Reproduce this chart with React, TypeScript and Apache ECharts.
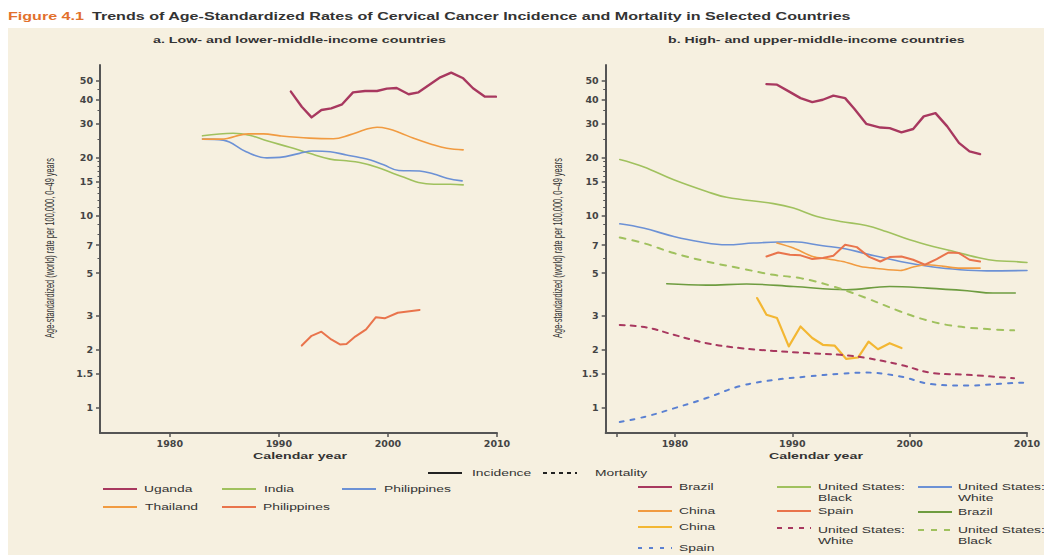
import React, { useEffect, useRef } from "react";
import * as echarts from "echarts";

// ---------- texts ----------
const TITLE_FIG = "Figure 4.1";
const TITLE = "Trends of Age-Standardized Rates of Cervical Cancer Incidence and Mortality in Selected Countries";
const PANEL_A = "a. Low- and lower-middle-income countries";
const PANEL_B = "b. High- and upper-middle-income countries";
const Y_NAME = "Age-standardized (world) rate per 100,000, 0–49 years";
const X_NAME = "Calendar year";

// ---------- ticks ----------
const Y_LABELS = [1, 1.5, 2, 3, 5, 7, 10, 15, 20, 30, 40, 50];
const Y_MINOR = [6, 8, 9, 11, 12, 13, 14, 16, 17, 18, 19, 25, 35, 45];
const X_LABELS = [1980, 1990, 2000, 2010];
const X_TICKS_A = [1980, 1990, 2000, 2010];
const X_TICKS_B = [1975, 1980, 1990, 2000, 2010];

// ---------- panel a: low- and lower-middle-income ----------
const UGANDA = [[1991.1, 44.0], [1992.1, 36.7], [1993.0, 32.3], [1993.9, 35.3], [1994.8, 36.0], [1995.8, 37.8], [1996.8, 43.6], [1997.9, 44.3], [1999.0, 44.3], [1999.9, 45.6], [2000.8, 45.9], [2001.9, 42.6], [2002.8, 43.6], [2003.9, 48.2], [2004.8, 52.2], [2005.8, 55.2], [2006.9, 51.6], [2007.8, 45.8], [2008.9, 41.4], [2009.9, 41.4]];
const THAILAND = [[1983.0, 24.9], [1984.7, 24.9], [1987.2, 26.5], [1988.6, 26.5], [1990.1, 25.9], [1992.8, 25.2], [1995.0, 25.0], [1996.5, 26.2], [1998.0, 28.0], [1999.0, 28.7], [2000.0, 28.2], [2001.1, 26.9], [2002.3, 25.2], [2003.9, 23.5], [2005.4, 22.3], [2006.9, 21.9]];
const INDIA = [[1983.0, 25.9], [1985.8, 26.7], [1987.3, 26.1], [1988.9, 24.4], [1991.0, 22.6], [1992.8, 21.0], [1994.7, 19.6], [1996.2, 19.2], [1997.4, 18.8], [1999.0, 17.8], [2000.5, 16.5], [2001.7, 15.6], [2002.8, 14.8], [2004.2, 14.5], [2005.7, 14.5], [2006.9, 14.4]];
const PHILIPPINES_BLUE = [[1983.0, 24.9], [1984.9, 24.6], [1987.0, 21.4], [1988.9, 19.9], [1990.1, 20.0], [1991.9, 21.0], [1993.1, 21.6], [1994.7, 21.4], [1996.2, 20.6], [1997.4, 20.0], [1998.4, 19.4], [1999.6, 18.3], [2001.0, 17.1], [2002.9, 17.0], [2004.2, 16.4], [2005.4, 15.6], [2006.8, 15.1]];
const PHILIPPINES_RED = [[1992.1, 2.10], [1993.0, 2.36], [1993.9, 2.48], [1994.8, 2.26], [1995.6, 2.13], [1996.2, 2.14], [1997.0, 2.34], [1998.0, 2.55], [1998.9, 2.95], [1999.7, 2.91], [2000.9, 3.11], [2002.9, 3.22]];

// ---------- panel b: high- and upper-middle-income ----------
const BRAZIL_CRIMSON = [[1987.8, 48.1], [1988.7, 47.8], [1989.7, 44.1], [1990.7, 40.7], [1991.7, 38.8], [1992.6, 39.9], [1993.5, 41.9], [1994.5, 40.7], [1995.3, 35.7], [1996.3, 29.9], [1997.5, 28.6], [1998.3, 28.4], [1999.3, 27.0], [2000.3, 28.1], [2001.2, 32.7], [2002.2, 34.0], [2003.2, 29.0], [2004.2, 23.8], [2005.1, 21.5], [2006.0, 20.8]];
const US_BLACK_INC = [[1975.3, 19.5], [1977.3, 17.9], [1979.9, 15.3], [1982.7, 13.3], [1984.4, 12.4], [1988.4, 11.5], [1990.1, 10.9], [1992.1, 9.86], [1994.1, 9.29], [1996.3, 8.85], [1998.0, 8.24], [2000.0, 7.46], [2002.0, 6.88], [2004.0, 6.43], [2006.0, 5.99], [2007.4, 5.80], [2008.9, 5.75], [2010.0, 5.68]];
const US_WHITE_INC = [[1975.3, 9.03], [1977.3, 8.58], [1979.9, 7.76], [1982.1, 7.28], [1984.4, 7.02], [1986.7, 7.17], [1990.1, 7.28], [1992.6, 6.94], [1994.5, 6.70], [1996.3, 6.30], [1999.2, 5.75], [2002.0, 5.38], [2004.3, 5.21], [2006.6, 5.14], [2010.0, 5.16]];
const CHINA_ORANGE = [[1988.7, 7.17], [1990.1, 6.75], [1991.8, 6.08], [1992.9, 5.94], [1994.3, 5.75], [1995.8, 5.42], [1997.2, 5.29], [1999.2, 5.16], [2000.3, 5.38], [2001.4, 5.53], [2002.9, 5.42], [2004.3, 5.31], [2006.0, 5.31]];
const SPAIN_INC = [[1987.8, 6.10], [1988.8, 6.40], [1989.8, 6.23], [1990.7, 6.19], [1991.7, 5.92], [1992.6, 5.99], [1993.5, 6.16], [1994.5, 7.02], [1995.5, 6.83], [1996.5, 6.10], [1997.5, 5.75], [1998.3, 6.06], [1999.3, 6.10], [2000.3, 5.87], [2001.3, 5.53], [2002.3, 5.92], [2003.3, 6.40], [2004.2, 6.36], [2005.1, 5.87], [2006.0, 5.75]];
const BRAZIL_GREEN = [[1979.3, 4.40], [1982.7, 4.33], [1986.1, 4.39], [1990.1, 4.26], [1994.6, 4.10], [1998.3, 4.26], [2001.5, 4.18], [2004.9, 4.05], [2007.1, 3.94], [2009.0, 3.94]];
const CHINA_YELLOW = [[1987.0, 3.71], [1987.8, 3.04], [1988.7, 2.92], [1989.7, 2.08], [1990.7, 2.64], [1991.7, 2.30], [1992.6, 2.12], [1993.6, 2.10], [1994.6, 1.79], [1995.6, 1.82], [1996.5, 2.20], [1997.3, 2.01], [1998.3, 2.16], [1999.3, 2.04]];
const US_WHITE_MORT = [[1975.3, 2.69], [1977.6, 2.61], [1979.9, 2.39], [1982.7, 2.16], [1985.5, 2.04], [1988.4, 1.97], [1991.3, 1.92], [1994.1, 1.88], [1996.3, 1.81], [1999.2, 1.67], [2002.0, 1.51], [2004.9, 1.48], [2008.9, 1.42]];
const US_BLACK_MORT = [[1975.3, 7.66], [1977.3, 7.17], [1979.9, 6.36], [1982.7, 5.75], [1985.5, 5.31], [1988.4, 4.90], [1990.7, 4.71], [1993.5, 4.26], [1996.3, 3.71], [1999.2, 3.16], [2001.5, 2.84], [2003.7, 2.66], [2006.6, 2.56], [2008.9, 2.52]];
const SPAIN_MORT = [[1975.3, 0.84], [1977.6, 0.90], [1979.9, 0.99], [1982.7, 1.12], [1985.5, 1.29], [1988.4, 1.39], [1991.3, 1.45], [1994.1, 1.50], [1996.3, 1.52], [1999.2, 1.45], [2002.0, 1.32], [2004.9, 1.30], [2007.7, 1.33], [2010.0, 1.35]];

// ---------- styles ----------
const COL = {
  crimson: "#a8385f",
  lgreen: "#a0c15e",
  blue: "#6c91d5",
  orange: "#f19b41",
  red: "#e9744c",
  yellow: "#f3b733",
  dgreen: "#6e9c40",
  dblue: "#5a80d2",
};

type S = { name: string; grid: number; data: number[][]; color: string; width: number; dash?: number[]; smooth?: number };
const SERIES: S[] = [
  { name: "Uganda", grid: 0, data: UGANDA, color: COL.crimson, width: 2.4 },
  { name: "India", grid: 0, data: INDIA, color: COL.lgreen, width: 1.6, smooth: 0.4 },
  { name: "Philippines", grid: 0, data: PHILIPPINES_BLUE, color: COL.blue, width: 1.6, smooth: 0.4 },
  { name: "Thailand", grid: 0, data: THAILAND, color: COL.orange, width: 1.6, smooth: 0.4 },
  { name: "Philippines", grid: 0, data: PHILIPPINES_RED, color: COL.red, width: 2 },
  { name: "Brazil", grid: 1, data: BRAZIL_CRIMSON, color: COL.crimson, width: 2.4 },
  { name: "United States: Black", grid: 1, data: US_BLACK_INC, color: COL.lgreen, width: 1.6, smooth: 0.4 },
  { name: "United States: White", grid: 1, data: US_WHITE_INC, color: COL.blue, width: 1.6, smooth: 0.4 },
  { name: "China", grid: 1, data: CHINA_ORANGE, color: COL.orange, width: 1.6, smooth: 0.3 },
  { name: "Spain", grid: 1, data: SPAIN_INC, color: COL.red, width: 2 },
  { name: "Brazil", grid: 1, data: BRAZIL_GREEN, color: COL.dgreen, width: 1.6, smooth: 0.4 },
  { name: "China", grid: 1, data: CHINA_YELLOW, color: COL.yellow, width: 2.2 },
  { name: "United States: White", grid: 1, data: US_WHITE_MORT, color: COL.crimson, width: 2, dash: [5, 6], smooth: 0.4 },
  { name: "United States: Black", grid: 1, data: US_BLACK_MORT, color: COL.lgreen, width: 2, dash: [6, 7], smooth: 0.4 },
  { name: "Spain", grid: 1, data: SPAIN_MORT, color: COL.dblue, width: 2, dash: [4, 7], smooth: 0.4 },
];

const FONT = "Liberation Sans";
const TICK_FONT = "DejaVu Sans";
const AXIS_COLOR = "#555";
const TEXT_COLOR = "#333";

function measure(text: string, size: number, weight: string, family = FONT): number {
  const ctx = document.createElement("canvas").getContext("2d")!;
  ctx.font = `${weight} ${size}px "${family}"`;
  return ctx.measureText(text).width || 1;
}

function txt(text: string, x: number, y: number, size: number, weight: string, fill: string, scaleX: number, extra: any = {}) {
  return {
    type: "text",
    x,
    y,
    scaleX,
    scaleY: extra.scaleY ?? 1,
    rotation: extra.rotation ?? 0,
    z: 100,
    style: {
      text,
      fontSize: size,
      fontFamily: FONT,
      fontWeight: weight,
      fill,
      align: extra.align ?? "left",
      verticalAlign: extra.verticalAlign ?? "middle",
      textAlign: extra.align ?? "left",
      textVerticalAlign: extra.verticalAlign ?? "middle",
      lineHeight: extra.lineHeight ?? size * 1.2,
    },
  };
}

function fitSpan(text: string, x0: number, x1: number, y: number, size: number, weight: string, fill: string, extra: any = {}) {
  const w = measure(text, size, weight);
  return txt(text, x0, y, size, weight, fill, (x1 - x0) / w, extra);
}

function legendLine(x: number, y: number, color: string, dash?: number[]) {
  return {
    type: "line",
    z: 100,
    shape: { x1: x, y1: y, x2: x + 34, y2: y },
    style: { stroke: color, lineWidth: 2, lineDash: dash || null },
  };
}

const LOG = (v: number) => Math.log10(v);
const Y_MIN = LOG(0.737);
const Y_MAX = LOG(60.5);

function fmtY(v: number) {
  const r = Math.pow(10, v);
  return String(Math.round(r * 10) / 10);
}

function xAxisCfg(gridIndex: number, min: number, ticks: number[]) {
  return {
    type: "value",
    gridIndex,
    min,
    max: 2010,
    axisLine: { show: true, onZero: false, lineStyle: { color: AXIS_COLOR, width: 2 } },
    axisTick: { show: true, customValues: ticks, length: 4, lineStyle: { color: AXIS_COLOR, width: 1.5 } },
    axisLabel: {
      customValues: X_LABELS,
      formatter: (v: number) => String(v),
      margin: 5,
      fontSize: 9.5,
      fontWeight: "bold",
      fontFamily: TICK_FONT,
      color: "#444",
    },
    splitLine: { show: false },
  };
}

function yAxisCfg(gridIndex: number) {
  return {
    type: "value",
    gridIndex,
    min: Y_MIN,
    max: Y_MAX,
    axisLine: { show: true, onZero: false, lineStyle: { color: AXIS_COLOR, width: 2 } },
    axisTick: { show: true, customValues: Y_LABELS.map(LOG), length: 4, lineStyle: { color: AXIS_COLOR, width: 1.5 } },
    axisLabel: {
      customValues: Y_LABELS.map(LOG),
      formatter: fmtY,
      margin: 7,
      fontSize: 9.5,
      fontWeight: "bold",
      fontFamily: TICK_FONT,
      color: "#444",
    },
    splitLine: { show: false },
  };
}

function yMinorCfg(gridIndex: number) {
  return {
    type: "value",
    gridIndex,
    min: Y_MIN,
    max: Y_MAX,
    position: "left",
    axisLine: { show: false, onZero: false },
    axisTick: { show: true, customValues: Y_MINOR.map(LOG), length: 2.5, lineStyle: { color: AXIS_COLOR, width: 1 } },
    axisLabel: { show: false },
    splitLine: { show: false },
  };
}

export default function App() {
  const ref = useRef<HTMLDivElement>(null);

  useEffect(() => {
    if (!ref.current) return;
    const chart = echarts.init(ref.current, null, { renderer: "svg" });

    const legSize = 9.5;
    const legScale = 67 / measure("Philippines", legSize, "normal");
    const L = (text: string, x: number, y: number, extra: any = {}) =>
      txt(text, x, y, legSize, "normal", TEXT_COLOR, legScale, extra);

    const yNameW = measure(Y_NAME, 7, "normal");

    const graphic: any[] = [
      { type: "rect", z: 50, shape: { x: 0, y: 0, width: 1044, height: 28 }, style: { fill: "#ffffff" } },
      { type: "rect", z: 50, shape: { x: 0, y: 0, width: 8, height: 555 }, style: { fill: "#ffffff" } },
      fitSpan(TITLE_FIG, 8, 84, 16, 11, "bold", "#e2702c"),
      fitSpan(TITLE, 92, 852, 16, 11, "bold", "#333"),
      fitSpan(PANEL_A, 153, 446, 40, 9.5, "bold", TEXT_COLOR),
      fitSpan(PANEL_B, 668, 965, 40, 9.5, "bold", TEXT_COLOR),
      fitSpan(X_NAME, 253, 347, 456, 9.5, "bold", TEXT_COLOR),
      fitSpan(X_NAME, 769, 863, 456, 9.5, "bold", TEXT_COLOR),
      txt(Y_NAME, 49.5, 248, 7, "normal", TEXT_COLOR, 180 / yNameW, { rotation: Math.PI / 2, scaleY: 1.9, align: "center" }),
      txt(Y_NAME, 557.5, 248, 7, "normal", TEXT_COLOR, 180 / yNameW, { rotation: Math.PI / 2, scaleY: 1.9, align: "center" }),
      // style key
      legendLine(428, 473, "#222"),
      L("Incidence", 472, 473),
      legendLine(543, 473, "#222", [4, 4]),
      L("Mortality", 595, 473),
      // panel a legend
      legendLine(103, 489, COL.crimson),
      L("Uganda", 144, 489),
      legendLine(222, 489, COL.lgreen),
      L("India", 264, 489),
      legendLine(342, 489, COL.blue),
      L("Philippines", 384, 489),
      legendLine(103, 507, COL.orange),
      L("Thailand", 145, 507),
      legendLine(222, 507, COL.red),
      L("Philippines", 263, 507),
      // panel b legend
      legendLine(638, 487, COL.crimson),
      L("Brazil", 679, 487),
      legendLine(777, 487, COL.lgreen),
      L("United States:\nBlack", 818, 482, { verticalAlign: "top", lineHeight: 10.5 }),
      legendLine(918, 487, COL.blue),
      L("United States:\nWhite", 958, 482, { verticalAlign: "top", lineHeight: 10.5 }),
      legendLine(638, 511, COL.orange),
      L("China", 679, 511),
      legendLine(777, 511, COL.red),
      L("Spain", 818, 511),
      legendLine(918, 512, COL.dgreen),
      L("Brazil", 958, 512),
      legendLine(638, 527, COL.yellow),
      L("China", 679, 527),
      legendLine(777, 528, COL.crimson, [5, 6]),
      L("United States:\nWhite", 818, 525, { verticalAlign: "top", lineHeight: 10.5 }),
      legendLine(918, 530, COL.lgreen, [6, 7]),
      L("United States:\nBlack", 958, 525, { verticalAlign: "top", lineHeight: 10.5 }),
      legendLine(638, 548, COL.dblue, [4, 7]),
      L("Spain", 679, 548),
    ];

    const option: any = {
      animation: false,
      backgroundColor: "#f6f0e0",
      grid: [
        { left: 100, top: 65, width: 397, height: 368, outerBoundsMode: "none", containLabel: false },
        { left: 605.7, top: 65, width: 421.3, height: 368, outerBoundsMode: "none", containLabel: false },
      ],
      xAxis: [xAxisCfg(0, 1973.6, X_TICKS_A), xAxisCfg(1, 1974.1, X_TICKS_B)],
      yAxis: [yAxisCfg(0), yMinorCfg(0), yAxisCfg(1), yMinorCfg(1)],
      series: SERIES.map((s) => ({
        type: "line",
        name: s.name,
        xAxisIndex: s.grid,
        yAxisIndex: s.grid === 0 ? 0 : 2,
        data: s.data.map(([x, v]) => [x, LOG(v)]),
        showSymbol: false,
        symbol: "none",
        smooth: s.smooth ?? false,
        clip: false,
        lineStyle: { color: s.color, width: s.width, type: s.dash ? s.dash : "solid", cap: "round", join: "round" },
        itemStyle: { color: s.color },
      })),
      graphic,
    };

    chart.setOption(option);
    return () => chart.dispose();
  }, []);

  return (
    <div
      ref={ref}
      style={{ position: "absolute", left: 0, top: 0, width: 1044, height: 555, background: "#fff" }}
    />
  );
}
